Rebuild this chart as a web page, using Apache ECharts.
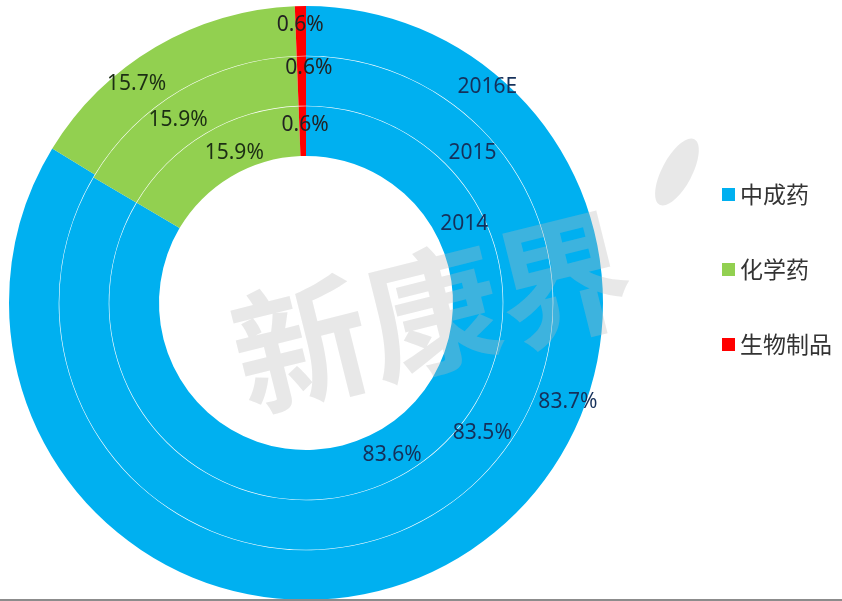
<!DOCTYPE html>
<html>
<head>
<meta charset="utf-8">
<script src="https://cdn.jsdelivr.net/npm/echarts@6/dist/echarts.min.js"></script>
<style>
  html, body { margin: 0; padding: 0; background: #ffffff; }
  #chart { width: 842px; height: 601px; }
</style>
</head>
<body>
<div id="chart"></div>
<script>
// ---------------- data ----------------
const CATEGORIES = ['中成药', '化学药', '生物制品'];
const YEARS = ['2014', '2015', '2016E'];
const SHARE_2014 = [83.6, 15.9, 0.6];
const SHARE_2015 = [83.5, 15.9, 0.6];
const SHARE_2016E = [83.7, 15.7, 0.6];

// ---------------- layout / style ----------------
const SHARES = { '2014': SHARE_2014, '2015': SHARE_2015, '2016E': SHARE_2016E };
const COLORS = ['#00B0F0', '#92D050', '#FF0000'];
const LABEL_COLORS = ['#15305a', '#1c2e14', '#222222'];
const CX = 306, CY = 303;
const RINGS = { '2014': [147, 196.7], '2015': [197.3, 246.7], '2016E': [247.3, 297] };
// label anchors: [angle in degrees clockwise from 12 o'clock, radius in px]
const LABEL_ANCHORS = {
  '2014':  [[150.5, 175], [334.4, 166], [359.7, 178]],
  '2015':  [[126.4, 219], [325.0, 223], [0.7, 235]],
  '2016E': [[110.7, 280], [322.3, 277], [358.8, 278]]
};
const YEAR_ANCHORS = { '2014': [63.4, 177], '2015': [48, 224], '2016E': [40, 282] };
const LABEL_FONT = 'Noto Sans';

function polar(angleDeg, r) {
  const a = angleDeg * Math.PI / 180;
  return [CX + r * Math.sin(a), CY - r * Math.cos(a)];
}

const series = YEARS.map(function (year) {
  return {
    name: year,
    type: 'pie',
    center: [CX, CY],
    radius: RINGS[year],
    startAngle: 90,
    clockwise: true,
    avoidLabelOverlap: false,
    silent: true,
    emphasis: { disabled: true },
    label: {
      show: true,
      position: 'inside',
      fontFamily: LABEL_FONT,
      fontSize: 21,
      formatter: function (p) { return p.value.toFixed(1) + '%'; }
    },
    labelLine: { show: false },
    labelLayout: function (params) {
      const pos = polar(LABEL_ANCHORS[year][params.dataIndex][0], LABEL_ANCHORS[year][params.dataIndex][1]);
      return { x: pos[0], y: pos[1], align: 'center', verticalAlign: 'middle' };
    },
    data: CATEGORIES.map(function (name, i) {
      return {
        name: name,
        value: SHARES[year][i],
        itemStyle: { color: COLORS[i] },
        label: { color: LABEL_COLORS[i] }
      };
    })
  };
});

const yearTexts = YEARS.map(function (year) {
  const pos = polar(YEAR_ANCHORS[year][0], YEAR_ANCHORS[year][1]);
  return {
    type: 'text',
    x: pos[0], y: pos[1],
    z: 20,
    style: {
      text: year,
      font: '21px "' + LABEL_FONT + '"',
      fill: '#15305a',
      align: 'center',
      verticalAlign: 'middle'
    }
  };
});

const chart = echarts.init(document.getElementById('chart'), null, { renderer: 'canvas' });
chart.setOption({
  animation: false,
  backgroundColor: '#ffffff',
  color: COLORS,
  legend: {
    data: CATEGORIES,
    orient: 'vertical',
    left: 717,
    top: 178,
    icon: 'rect',
    itemWidth: 13,
    itemHeight: 13,
    itemGap: 52,
    selectedMode: false,
    textStyle: {
      fontFamily: 'Noto Sans CJK SC',
      fontSize: 23,
      color: '#333333',
      padding: [0, 0, 0, 0]
    }
  },
  series: series,
  graphic: [
    {
      type: 'text',
      x: 432, y: 312,
      rotation: 14 * Math.PI / 180,
      z: 10,
      silent: true,
      style: {
        text: '新康界',
        font: 'bold 135px "Noto Sans CJK SC"',
        fill: 'rgba(185,185,185,0.33)',
        align: 'center',
        verticalAlign: 'middle'
      }
    },
    {
      type: 'ellipse',
      shape: { cx: 0, cy: 0, rx: 15, ry: 37 },
      x: 677, y: 172,
      rotation: -28 * Math.PI / 180,
      z: 10,
      silent: true,
      style: { fill: 'rgba(185,185,185,0.33)' }
    },
    {
      type: 'rect',
      shape: { x: 0, y: 599, width: 842, height: 2 },
      z: 10,
      silent: true,
      style: { fill: '#8c8c8c' }
    }
  ].concat(yearTexts)
});
</script>
</body>
</html>
